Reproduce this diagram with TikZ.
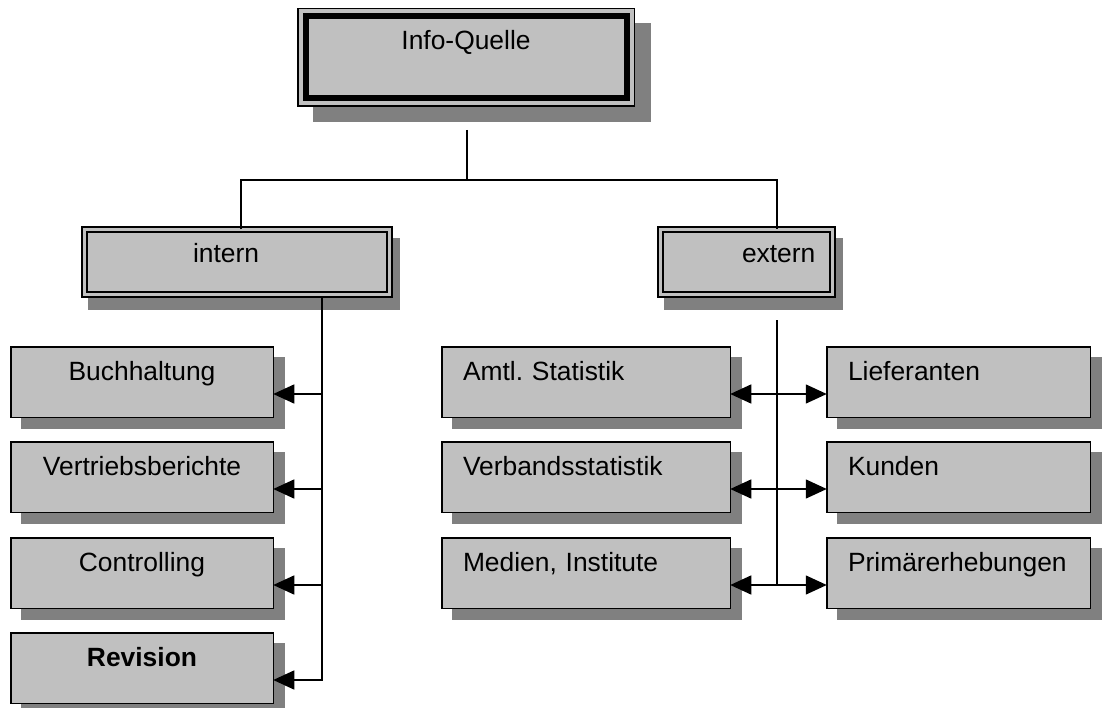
\documentclass[tikz,border=0pt]{standalone}
\usepackage{fontspec}
\setmainfont{Liberation Sans}
\usetikzlibrary{arrows.meta,backgrounds}
\definecolor{boxgray}{HTML}{C0C0C0}
\definecolor{shadegray}{HTML}{808080}
\frenchspacing

% filled shadow behind a box: node, x offset, y offset, growth of the node path
\newcommand\boxshade[4]{%
  \fill[shadegray] ([shift={(#2-#4,#3-#4)}]#1.north west)
    rectangle ([shift={(#2+#4,#3+#4)}]#1.south east);}

\begin{document}
\begin{tikzpicture}[x=1pt,y=-1pt,
  every node/.style={font=\fontsize{26.4}{30}\selectfont, inner sep=0pt, outer sep=0pt},
  plainbox/.style={draw=black, line width=1.5pt, fill=boxgray, anchor=north west,
    minimum height=70.5pt, text height=33.25pt, text depth=37.25pt},
  centerbox/.style={plainbox, text width=262.5pt, minimum width=262.5pt, align=center},
  leftbox/.style={plainbox, text width=#1, minimum width=#1, align=left,
    execute at begin node={\hspace*{21.25pt}}},
  framebox/.style 2 args={draw=black, line width=2pt, double=boxgray, double distance=3pt,
    fill=boxgray, anchor=north west, minimum height=65pt, text height=33.5pt, text depth=31.5pt,
    text width=#1, minimum width=#1, align=left, execute at begin node={\hspace*{#2}}},
  headbox/.style={draw=black, line width=1.5pt, fill=boxgray, anchor=north west,
    text width=336.5pt, minimum width=336.5pt, align=center,
    text height=41.25pt, text depth=56.25pt},
  conn/.style={draw=black, line width=1.5pt},
  tip/.style={-{Triangle[length=21pt,width=19pt]}},
  twotips/.style={{Triangle[length=21pt,width=19pt]}-{Triangle[length=21pt,width=19pt]}}
]
\useasboundingbox (0,0) rectangle (1107,708);

% root
\node[headbox] (top) at (297.75,8.75) {Info-Quelle};
\draw[line width=6pt] ([shift={(7.75,7.75)}]top.north west)
  rectangle ([shift={(-7.75,-7.75)}]top.south east);

% second level
\node[framebox={305pt}{108.5pt}] (intern) at (84.5,229.5) {intern};
\node[framebox={172pt}{81.5pt}] (extern) at (660.5,229.5) {extern};

% internal sources
\node[centerbox] (buch) at (10.75,346.75) {Buchhaltung};
\node[centerbox] (vert) at (10.75,441.75) {Vertriebsberichte};
\node[centerbox] (ctrl) at (10.75,537.75) {Controlling};
\node[centerbox] (rev)  at (10.75,632.75) {\textbf{Revision}};

% external sources
\node[leftbox=288.5pt] (amtl) at (441.75,346.75) {Amtl. Statistik};
\node[leftbox=288.5pt] (verb) at (441.75,441.75) {Verbandsstatistik};
\node[leftbox=288.5pt] (med)  at (441.75,537.75) {Medien, Institute};
\node[leftbox=263.5pt] (lief) at (826.75,346.75) {Lieferanten};
\node[leftbox=263.5pt] (kund) at (826.75,441.75) {Kunden};
\node[leftbox=263.5pt] (prim) at (826.75,537.75) {Primärerhebungen};

% shadows
\begin{scope}[on background layer]
  \boxshade{top}{16}{15}{0.75}
  \boxshade{intern}{7}{12}{3.5}
  \boxshade{extern}{7}{12}{3.5}
  \foreach \n in {buch,vert,ctrl,rev,amtl,verb,med,lief,kund,prim}{\boxshade{\n}{11}{11}{0.75}}
\end{scope}

% tree connectors
\coordinate (stem) at (467,130);
\coordinate (bar) at (467,180);
\coordinate (ijoin) at (241,180);
\coordinate (ejoin) at (777,180);
\draw[conn] (stem) -- (bar);
\draw[conn] (ijoin |- intern.north) -- (ijoin) -- (ejoin) -- (ejoin |- extern.north);

% internal branch
\coordinate (ispine) at (322,298);
\coordinate (a1) at ([yshift=-12pt]buch.east);
\coordinate (a2) at ([yshift=-12pt]vert.east);
\coordinate (a3) at ([yshift=-12pt]ctrl.east);
\coordinate (a4) at ([yshift=-12pt]rev.east);
\draw[conn, tip] (ispine) |- (a4);
\draw[conn, tip] (a1 -| ispine) -- (a1);
\draw[conn, tip] (a2 -| ispine) -- (a2);
\draw[conn, tip] (a3 -| ispine) -- (a3);

% external branch
\coordinate (espine) at (777,320);
\coordinate (b1) at ([yshift=-12pt]amtl.east);
\coordinate (b2) at ([yshift=-12pt]verb.east);
\coordinate (b3) at ([yshift=-12pt]med.east);
\coordinate (c1) at ([yshift=-12pt]lief.west);
\coordinate (c2) at ([yshift=-12pt]kund.west);
\coordinate (c3) at ([yshift=-12pt]prim.west);
\draw[conn] (espine) -- (espine |- b3);
\draw[conn, twotips] (b1) -- (c1);
\draw[conn, twotips] (b2) -- (c2);
\draw[conn, twotips] (b3) -- (c3);
\end{tikzpicture}
\end{document}
